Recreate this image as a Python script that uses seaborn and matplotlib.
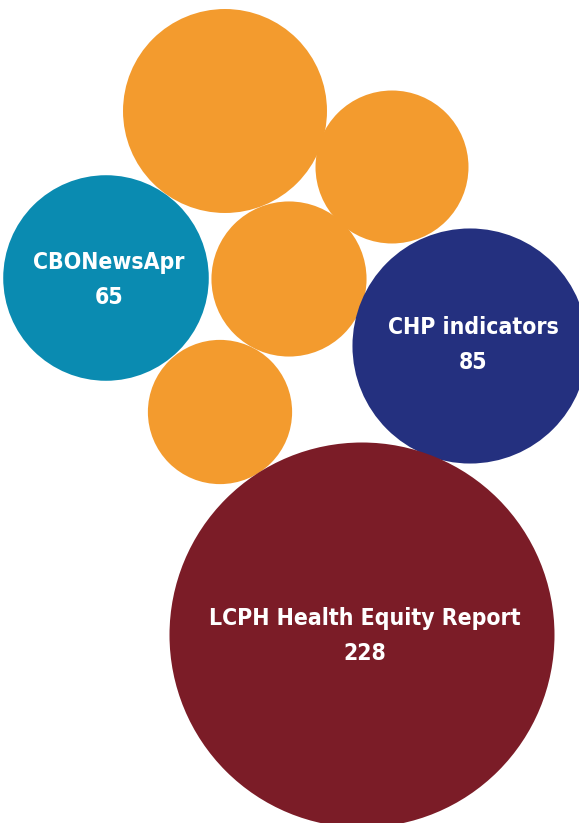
import numpy as np
import pandas as pd
import matplotlib.pyplot as plt
import seaborn as sns

# bubble data (unlabelled orange bubbles estimated from their size)
names = ['A', 'B', 'C', 'D', 'CBONewsApr', 'CHP indicators', 'LCPH Health Equity Report']
values = [64, 36, 37, 32, 65, 85, 228]
labelled = [False, False, False, False, True, True, True]
# packed layout positions (pixels, y downwards)
pos_x = [225, 392, 289, 220, 106, 470, 362]
pos_y = [111, 167, 279, 412, 278, 346, 635]

colors = {'A': '#F39B2E', 'B': '#F39B2E', 'C': '#F39B2E', 'D': '#F39B2E',
          'CBONewsApr': '#0A8BB1', 'CHP indicators': '#24307F',
          'LCPH Health Equity Report': '#7B1C27'}

df = pd.DataFrame({'name': names, 'value': values, 'x': pos_x, 'y': pos_y,
                   'labelled': labelled})

sns.set_style('white')
plt.rcParams['font.family'] = ['DejaVu Sans']

fig = plt.figure(figsize=(5.79, 8.23), dpi=100)
ax = fig.add_axes([0, 0, 1, 1])

# area proportional to value: 228 -> radius ~192 px
max_s = (2 * 192.5 * 72 / 100) ** 2
sns.scatterplot(data=df, x='x', y='y', hue='name', palette=colors,
                size='value', sizes=(0, max_s), size_norm=(0, 228),
                linewidth=0, alpha=1, legend=False, ax=ax)

# small nudges so the labels sit where the original has them
nudge_y = {'CBONewsApr': 2, 'CHP indicators': -1, 'LCPH Health Equity Report': 1}

for _, row in df[df['labelled']].iterrows():
    ax.text(row['x'] + 3, row['y'] + nudge_y[row['name']],
            f"{row['name']}\n{row['value']}",
            ha='center', va='center', color='white', fontsize=16.5,
            fontweight='bold', fontstretch='condensed', linespacing=1.7)

ax.set_xlim(0, 579)
ax.set_ylim(823, 0)
ax.axis('off')

plt.savefig('out.png', dpi=100)
